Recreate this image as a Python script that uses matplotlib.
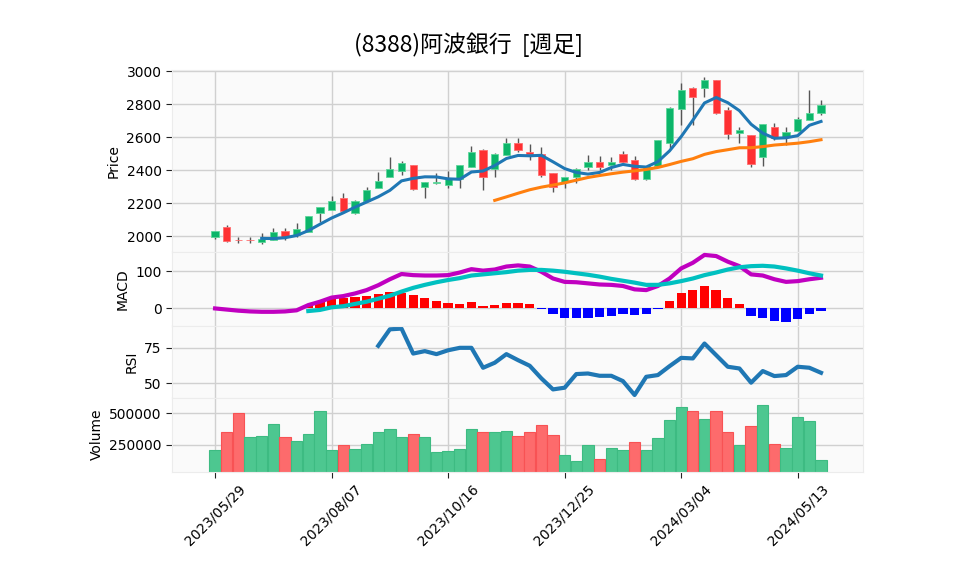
import matplotlib
matplotlib.use('Agg')
import matplotlib.pyplot as plt
import numpy as np
import pandas as pd

plt.rcParams['font.family'] = ['DejaVu Sans', 'Noto Sans CJK JP']

# weekly OHLC (week index 0 = 2023/05/29)
opens  = [1998, 2056, 1980, 1980, 1968, 1978, 2030, 2006, 2028, 2143,
          2161, 2232, 2143, 2216, 2290, 2357, 2393, 2432, 2300, 2323,
          2309, 2349, 2418, 2522, 2405, 2492, 2562, 2510, 2496, 2381,
          2329, 2357, 2418, 2448, 2432, 2496, 2462, 2349, 2425, 2567,
          2768, 2895, 2895, 2946, 2764, 2623, 2611, 2478, 2659, 2599,
          2639, 2704, 2748]
highs  = [2032, 2066, 1998, 1998, 2022, 2048, 2048, 2078, 2123, 2177,
          2244, 2260, 2220, 2296, 2387, 2478, 2456, 2432, 2327, 2385,
          2395, 2430, 2548, 2530, 2502, 2593, 2593, 2556, 2538, 2381,
          2357, 2411, 2494, 2488, 2482, 2516, 2488, 2425, 2583, 2780,
          2925, 2905, 2966, 2946, 2780, 2659, 2611, 2677, 2683, 2663,
          2724, 2885, 2825]
lows   = [1985, 1966, 1960, 1962, 1952, 1978, 1978, 1998, 2028, 2089,
          2161, 2149, 2133, 2216, 2290, 2357, 2371, 2280, 2234, 2317,
          2290, 2290, 2418, 2280, 2361, 2492, 2510, 2462, 2357, 2270,
          2290, 2321, 2401, 2401, 2401, 2442, 2341, 2341, 2425, 2532,
          2673, 2673, 2845, 2740, 2591, 2562, 2417, 2428, 2583, 2552,
          2639, 2704, 2734]
closes = [2030, 1972, 1975, 1975, 1984, 2024, 1998, 2042, 2123, 2177,
          2212, 2155, 2212, 2280, 2335, 2407, 2442, 2288, 2327, 2331,
          2349, 2430, 2508, 2357, 2496, 2562, 2522, 2498, 2371, 2300,
          2357, 2405, 2448, 2421, 2448, 2452, 2349, 2425, 2583, 2774,
          2885, 2845, 2946, 2748, 2617, 2643, 2435, 2677, 2593, 2631,
          2708, 2748, 2794]
volumes = [210500, 350000, 500000, 310500, 321000, 415800, 310500, 281600, 336800, 515800,
           210500, 247400, 218400, 257900, 350000, 373700, 310500, 336800, 310500, 194700,
           202600, 218400, 373700, 350000, 350000, 360500, 321000, 350000, 407900, 329000,
           171000, 123700, 250000, 139500, 226300, 210500, 271000, 210500, 302600, 444700,
           547400, 515800, 452600, 515800, 350000, 250000, 397400, 563200, 255300, 223700,
           468400, 436800, 128900]
vol_up = [1, 0, 0, 1, 1, 1, 0, 1, 1, 1,
          1, 0, 1, 1, 1, 1, 1, 0, 1, 1,
          1, 1, 1, 0, 1, 1, 0, 0, 0, 0,
          1, 1, 1, 0, 1, 1, 0, 1, 1, 1,
          1, 0, 1, 0, 0, 1, 0, 1, 0, 1,
          1, 1, 1]

macd = [0, -3, -6, -8, -9, -9, -8, -5, 9, 18,
        29, 33, 40, 49, 62, 78, 92, 89, 88, 88,
        89, 96, 105, 101, 104, 112, 115, 112, 98, 80,
        71, 70, 67, 64, 63, 60, 51, 49, 60, 80,
        107, 122, 143, 140, 125, 113, 91, 88, 78, 71,
        73, 78, 82]
signal = [np.nan] * 8 + [
        -7, -4, 3, 6, 12, 18, 26, 34, 45, 55,
        63, 70, 76, 81, 88, 91, 94, 97, 101, 103,
        103, 101, 98, 94, 90, 85, 79, 74, 69, 63,
        63, 67, 73, 80, 89, 96, 104, 110, 113, 114,
        112, 107, 101, 94, 88]
hist = [np.nan] * 8 + [
        9, 20, 25, 27, 30, 33, 39, 44, 40, 36,
        28, 20, 15, 12, 17, 6, 10, 15, 15, 12,
        -1, -16, -25, -25, -25, -22, -20, -14, -17, -14,
        -1, 20, 41, 49, 60, 49, 28, 12, -20, -25,
        -33, -36, -28, -16, -6]
rsi = [np.nan] * 14 + [
        76.2, 87.7, 88.2, 70.8, 72.5, 70.4, 73.1, 74.8, 74.8, 60.9,
        64.4, 70.4, 66.2, 62.3, 53.5, 45.8, 47.0, 56.5, 56.9, 55.3,
        55.3, 51.6, 41.9, 54.6, 55.8, 62.0, 67.8, 67.4, 77.8, 69.7,
        61.6, 60.4, 50.5, 58.6, 55.1, 55.8, 61.6, 60.9, 57.4]

tick_idx = [0, 10, 20, 30, 40, 50]
tick_labels = ['2023/05/29', '2023/08/07', '2023/10/16', '2023/12/25', '2024/03/04', '2024/05/13']

n = len(closes)
x = np.arange(n)
o = np.array(opens); c = np.array(closes)
h = np.array(highs); l = np.array(lows)
ma5 = pd.Series(closes).rolling(5).mean()
ma25 = pd.Series(closes).rolling(25).mean()

fig = plt.figure(figsize=(9.58, 5.75), dpi=100)
L, W = 0.1795, 0.7213
ax_p = fig.add_axes([L, 0.5612, W, 0.3179])
ax_m = fig.add_axes([L, 0.4330, W, 0.1282], sharex=ax_p)
ax_r = fig.add_axes([L, 0.3083, W, 0.1247], sharex=ax_p)
ax_v = fig.add_axes([L, 0.1797, W, 0.1286], sharex=ax_p)

for ax in (ax_p, ax_m, ax_r, ax_v):
    ax.set_facecolor('#fafafa')
    ax.grid(True, color='#d0d0d0', linewidth=1)
    ax.set_axisbelow(True)
    for s in ax.spines.values():
        s.set_color('#ececec')
    ax.tick_params(labelsize=10, color='#222222', length=4)
    ax.set_xticks(tick_idx)
    if ax is not ax_v:
        ax.tick_params(axis='x', length=0, labelbottom=False)

# candles
up = c >= o
wick = '#555555'
ax_p.vlines(x, l, h, color=wick, linewidth=1, zorder=2)
body_lo = np.minimum(o, c)
body_h = np.maximum(np.abs(c - o), 3)
ax_p.bar(x, body_h, bottom=body_lo, width=0.62,
         color=np.where(up, '#0cb56a', '#fe3032'),
         edgecolor=np.where(up, '#5fd79b', '#ff6d6f'), linewidth=0.6, zorder=3)
ax_p.plot(x, ma5, color='#1f77b4', linewidth=2.2, zorder=4)
ax_p.plot(x, ma25, color='#ff7f0e', linewidth=2.2, zorder=4)
ax_p.set_ylim(1903, 3009)
ax_p.set_yticks(range(2000, 3001, 200))
ax_p.set_ylabel('Price', fontsize=10)

# MACD
hist_a = np.array(hist, dtype=float)
ax_m.bar(x, hist_a, width=0.8, color=np.where(hist_a >= 0, '#ff0000', '#0000ff'), zorder=2)
ax_m.plot(x, macd, color='#c000c0', linewidth=3, zorder=3)
ax_m.plot(x, signal, color='#00c0c0', linewidth=3, zorder=3)
ax_m.set_ylim(-47, 150)
ax_m.set_yticks([0, 100])
ax_m.set_ylabel('MACD', fontsize=10)

# RSI
ax_r.plot(x, rsi, color='#1f77b4', linewidth=3)
ax_r.set_ylim(40, 90)
ax_r.set_yticks([50, 75])
ax_r.set_ylabel('RSI', fontsize=10)

# Volume
vu = np.array(vol_up, dtype=bool)
ax_v.bar(x, volumes, width=0.97, color=np.where(vu, '#4dc790', '#fd6b6c'),
         edgecolor=np.where(vu, '#3dbb82', '#f85254'), linewidth=0.8, zorder=2)
ax_v.set_ylim(39000, 623000)
ax_v.set_yticks([250000, 500000])
ax_v.set_yticklabels(['250000', '500000'])
ax_v.set_ylabel('Volume', fontsize=10)
ax_v.set_xticklabels(tick_labels, rotation=45, ha='center', fontsize=10)

ax_p.set_xlim(-3.7, 55.6)

fig.text(0.489, 0.922, '(8388)阿波銀行  [週足]', ha='center', va='center', fontsize=16.5,
         family=['Noto Sans CJK JP', 'DejaVu Sans'])

fig.savefig('out.png', dpi=100)
